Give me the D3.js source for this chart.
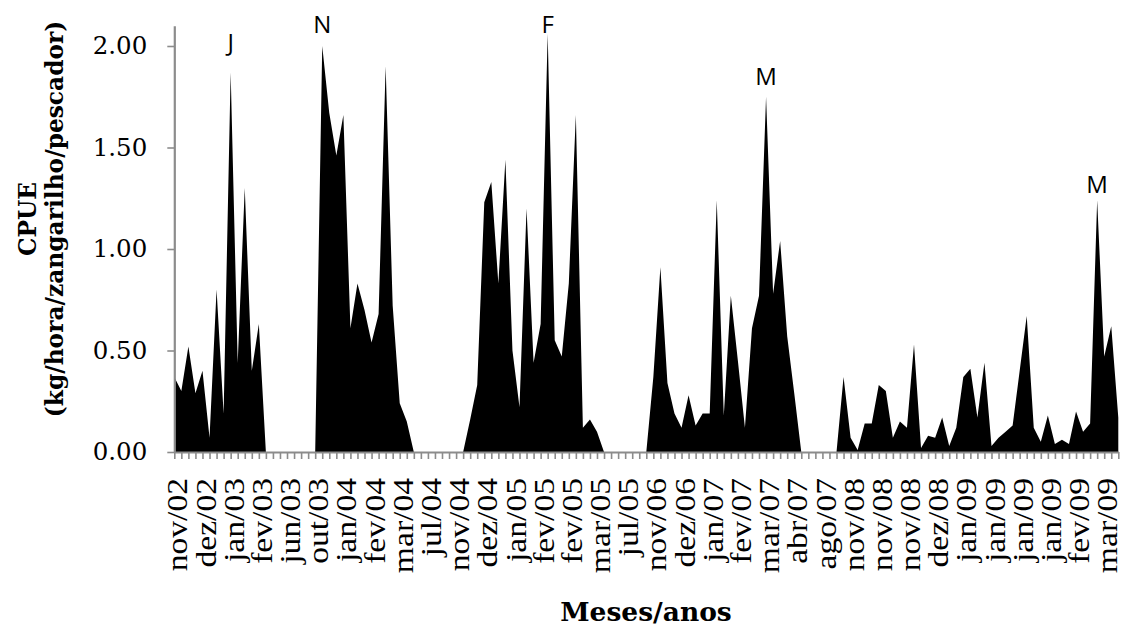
<!DOCTYPE html>
<html>
<head>
<meta charset="utf-8">
<script src="https://cdn.jsdelivr.net/npm/d3@7"></script>
<style>
  html, body { margin: 0; padding: 0; background: #fff; }
  svg { display: block; }
</style>
</head>
<body>
<svg id="chart" width="1124" height="629"></svg>
<script>
// ---- Data ----
const cpueValues = [
  0.37, 0.30, 0.52, 0.29, 0.40, 0.07, 0.80, 0.19, 1.87, 0.44,
  1.30, 0.40, 0.63, 0.00, 0.00, 0.00, 0.00, 0.00, 0.00, 0.00,
  0.00, 2.00, 1.67, 1.46, 1.66, 0.61, 0.83, 0.70, 0.54, 0.68,
  1.90, 0.72, 0.24, 0.15, 0.00, 0.00, 0.00, 0.00, 0.00, 0.00,
  0.00, 0.00, 0.16, 0.33, 1.23, 1.33, 0.83, 1.44, 0.50, 0.22,
  1.20, 0.44, 0.63, 2.06, 0.55, 0.47, 0.83, 1.66, 0.12, 0.16,
  0.10, 0.00, 0.00, 0.00, 0.00, 0.00, 0.00, 0.00, 0.37, 0.91,
  0.34, 0.19, 0.12, 0.28, 0.13, 0.19, 0.19, 1.24, 0.18, 0.77,
  0.45, 0.12, 0.61, 0.77, 1.75, 0.78, 1.04, 0.57, 0.29, 0.00,
  0.00, 0.00, 0.00, 0.00, 0.00, 0.37, 0.07, 0.01, 0.14, 0.14,
  0.33, 0.30, 0.07, 0.15, 0.12, 0.53, 0.02, 0.08, 0.07, 0.17,
  0.03, 0.12, 0.37, 0.41, 0.17, 0.44, 0.03, 0.07, 0.10, 0.13,
  0.40, 0.67, 0.12, 0.05, 0.18, 0.04, 0.06, 0.04, 0.20, 0.10,
  0.14, 1.24, 0.47, 0.62, 0.17
];

// one label every 4 samples
const tickLabels = [
  "nov/02", "dez/02", "jan/03", "fev/03", "jun/03", "out/03", "jan/04", "fev/04",
  "mar/04", "jul/04", "nov/04", "dez/04", "jan/05", "fev/05", "fev/05", "mar/05",
  "jul/05", "nov/06", "dez/06", "jan/07", "fev/07", "mar/07", "abr/07", "ago/07",
  "nov/08", "nov/08", "nov/08", "dez/08", "jan/09", "jan/09", "jan/09", "jan/09",
  "fev/09", "mar/09"
];
const labelStep = 4;

const yTicks = [0, 0.5, 1.0, 1.5, 2.0];
const yMax = 2.1;

// peak annotations: sample index and the value-level of the text baseline
const annotationLabels = ["J", "N", "F", "M", "M"];
const annotationIndex = [8, 21, 53, 84, 131];
const annotationLevel = [1.975, 2.064, 2.064, 1.808, 1.276];

const yTitleLines = ["CPUE", "(kg/hora/zangarilho/pescador)"];
const xTitle = "Meses/anos";

// ---- Drawing ----
const svg = d3.select("#chart");
const axisColor = "#8c8c8c";

const sampleIdx = d3.range(cpueValues.length);
const x = d3.scalePoint().domain(sampleIdx).range([174.3, 1118.3]);
const y = d3.scaleLinear().domain([0, yMax]).range([452, 25.7]);

// area
const area = d3.area()
  .x((d, i) => x(i))
  .y0(y(0))
  .y1(d => y(d));
svg.append("path")
  .datum(cpueValues)
  .attr("d", area)
  .attr("fill", "#000");

// x axis: small ticks at every sample
const xAxisTicks = svg.append("g")
  .attr("transform", `translate(0,${y(0)})`)
  .call(d3.axisBottom(x).tickValues(sampleIdx).tickSize(7).tickSizeOuter(0).tickFormat(""));
xAxisTicks.select(".domain").attr("stroke", axisColor).attr("stroke-width", 2.2);
xAxisTicks.selectAll(".tick line").attr("stroke", axisColor).attr("stroke-width", 1.6);

// x labels every 4 samples
const labelIdx = sampleIdx.filter(i => i % labelStep === 0);
const xAxisLabels = svg.append("g")
  .attr("transform", `translate(0,${y(0)})`)
  .call(d3.axisBottom(x).tickValues(labelIdx).tickSize(0).tickFormat(i => tickLabels[i / labelStep]));
xAxisLabels.select(".domain").remove();
xAxisLabels.selectAll(".tick text")
  .attr("font-family", "'Liberation Serif', 'Times New Roman', serif")
  .attr("font-size", 30)
  .attr("fill", "#000")
  .attr("text-anchor", "end")
  .attr("x", 0).attr("y", 0)
  .attr("dy", "0.42em")
  .attr("transform", "translate(0,26) rotate(-90) scale(1.12,1)");

// y axis
const yAxis = svg.append("g")
  .attr("transform", `translate(${x(0)},0)`)
  .call(d3.axisLeft(y).tickValues(yTicks).tickSize(7).tickSizeOuter(0).tickPadding(20).tickFormat(d3.format(".2f")));
yAxis.select(".domain").attr("stroke", axisColor).attr("stroke-width", 2.2);
yAxis.selectAll(".tick line").attr("stroke", axisColor).attr("stroke-width", 1.6);
yAxis.selectAll(".tick text")
  .attr("font-family", "'DejaVu Serif', Georgia, serif")
  .attr("font-size", 24.5)
  .attr("fill", "#000");

// y title (two lines, rotated)
const yTitle = svg.append("text")
  .attr("transform", "translate(0,219) rotate(-90)")
  .attr("text-anchor", "middle")
  .attr("font-family", "'DejaVu Serif', Georgia, serif")
  .attr("font-weight", "bold")
  .attr("font-size", 23.3)
  .attr("fill", "#000");
yTitle.append("tspan").attr("x", 0).attr("y", 36).text(yTitleLines[0]);
yTitle.append("tspan").attr("x", 0).attr("y", 63).text(yTitleLines[1]);

// x title
svg.append("text")
  .attr("x", 646).attr("y", 621)
  .attr("text-anchor", "middle")
  .attr("font-family", "'DejaVu Serif', Georgia, serif")
  .attr("font-weight", "bold")
  .attr("font-size", 26.5)
  .attr("fill", "#000")
  .text(xTitle);

// annotations
svg.append("g").selectAll("text")
  .data(annotationLabels)
  .join("text")
  .attr("x", (d, k) => x(annotationIndex[k]))
  .attr("y", (d, k) => y(annotationLevel[k]))
  .attr("text-anchor", "middle")
  .attr("font-family", "'Open Sans', 'Liberation Sans', sans-serif")
  .attr("font-size", 24)
  .attr("fill", "#000")
  .text(d => d);
</script>
</body>
</html>
